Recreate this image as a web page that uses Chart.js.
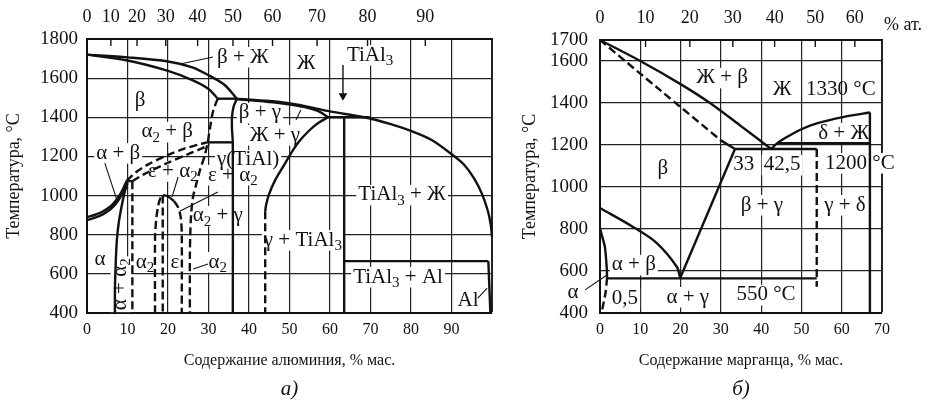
<!DOCTYPE html>
<html>
<head>
<meta charset="utf-8">
<script src="https://cdn.jsdelivr.net/npm/chart.js@4.4.1/dist/chart.umd.min.js"></script>
<style>
  html, body { margin: 0; padding: 0; background: #fff; overflow: hidden; }
  #wrap { position: relative; width: 928px; height: 404px; }
  canvas { position: absolute; top: 0; }
  #tial { left: 0; }
  #timn { left: 500px; }
</style>
</head>
<body>
<div id="wrap">
  <canvas id="tial" width="500" height="404"></canvas>
  <canvas id="timn" width="428" height="404"></canvas>
</div>
<script>
const FONT = "'Liberation Serif', 'Times New Roman', serif";
const INK = '#111';
const M_TI = 47.87, M_AL = 26.98, M_MN = 54.94;

// ---- Ti–Al: axes ----
const alAtTicks   = [0, 10, 20, 30, 40, 50, 60, 70, 80, 90];
const alWtTicks   = [0, 10, 20, 30, 40, 50, 60, 70, 80, 90, 100];
const alTempTicks = [400, 600, 800, 1000, 1200, 1400, 1600, 1800];

// ---- Ti–Al: phase boundaries, [wt.% Al, °C] ----
const alBetaLiquidus  = [[0,1720],[10,1706],[20,1685],[26,1655],[30,1615],[34,1565],[37,1495]];
const alBetaSolidus   = [[0,1720],[10,1690],[20,1637],[26,1590],[30,1545],[32.3,1495]];
const alPeritecticHi  = [[32.3,1495],[37,1495]];
const alLiquidus      = [[37,1495],[45,1483],[52,1465],[60,1430],[68.5,1400],[75,1365],[80,1330],[85,1285],[90,1212],[93,1160],[95.5,1090],[97.5,1010],[99,920],[99.7,850],[100,790]];
const alGammaSolidus  = [[37,1493],[46,1476],[51,1462],[54.5,1448],[57.5,1428],[59.5,1400]];
const alPeritectic3   = [[59.5,1400],[69.8,1400]];
const alGammaRight    = [[59.5,1400],[57,1370],[55,1335],[52.5,1280],[50.9,1233],[48.5,1150],[46.5,1080],[45,1010],[44.2,950],[44,920]];
const alGammaRightLow = [[44,920],[44,400]];
const alTiAl3         = [[63.5,1400],[63.5,400]];
const alEutectic      = [[63.5,665],[99.1,665]];
const alAlSolvus      = [[99.1,665],[99.6,400]];
const alGammaLeft     = [[37,1495],[36.2,1455],[35.8,1400],[35.8,1340],[36,1272],[36,400]];
const alEutectoid     = [[29.6,1272],[36,1272]];
const alA2BetaUpper   = [[9.8,1076],[12,1118],[15,1158],[19.7,1205],[24,1240],[27.5,1260],[29.6,1272]];
const alA2BetaLower   = [[11.2,1073],[14,1108],[19.7,1165],[25,1212],[28.5,1242],[30.2,1262]];
const alAlphaBeta     = [[32.3,1495],[31.6,1460],[31,1420],[30.5,1360],[30.1,1310],[29.8,1272],[29,1200],[27.9,1130],[27,1060],[26.2,995],[25.7,900],[25.5,800],[25.4,700],[25.4,400]];
const alTransusUpper  = [[0,890],[2,902],[4,920],[6,948],[7.5,985],[8.8,1030],[9.8,1076]];
const alTransusLower  = [[0,875],[2,887],[4,905],[6,933],[7.5,968],[8.8,1012],[10,1062]];
const alTransusTop    = [[9.8,1076],[11.2,1073]];
const alAlphaSolvus   = [[10,1068],[9.2,1010],[8.5,940],[7.9,870],[7.4,780],[7.1,660],[6.9,520],[6.9,400]];
const alAlpha2Left    = [[11.2,1073],[11.2,400]];
const alEpsLeft       = [[16.8,400],[16.8,780],[17.1,880],[17.6,950],[18.2,990],[18.8,1003]];
const alEpsTop        = [[18.8,1003],[20,995],[21.5,972]];
const alEpsRight      = [[21.5,972],[22.6,935],[23.2,880],[23.4,800],[23.4,400]];
const alEpsInner      = [[18.7,1000],[18.7,400]];
const alLeaders = [
  [[31.1,1708],[23,1672]],
  [[4.4,1166],[7.4,977]],
  [[22.5,1095],[21,993]],
  [[23,921],[32.3,1018]],
  [[26.2,625],[29.9,650]],
  [[51.6,1386],[52.8,1437]],
  [[96.5,476],[98.8,527]]
];
const alArrow    = [[63.2,1667],[63.2,1515]];
const alArrowTip = [[63.2,1510]];

const alLabels = [
  ['β + Ж', 38.5, 1708], ['Ж', 54.1, 1677], ['TiAl_3', 69.9, 1718],
  ['β', 13.1, 1488], ['α_2 + β', 19.8, 1325], ['α + β', 7.7, 1217],
  ['β + γ', 42.7, 1422], ['Ж + γ', 46.4, 1309], ['γ(TiAl)', 39.8, 1182],
  ['ε + α_2', 21.2, 1124], ['ε + α_2', 36, 1105], ['α_2 + γ', 32.3, 896],
  ['α', 3.2, 671], ['α_2', 14.3, 660], ['ε', 21.7, 660], ['α_2', 32.3, 660],
  ['γ + TiAl_3', 53.3, 773], ['TiAl_3 + Ж', 77.8, 1003],
  ['TiAl_3 + Al', 76.8, 584], ['Al', 94.1, 466]
];
const alRotLabels = [['α + α_2', 8.3, 547]];

// ---- Ti–Mn: axes ----
const mnAtTicks   = [0, 10, 20, 30, 40, 50, 60];
const mnWtTicks   = [0, 10, 20, 30, 40, 50, 60, 70];
const mnTempTicks = [400, 600, 800, 1000, 1200, 1400, 1600, 1700];

// ---- Ti–Mn: phase boundaries, [wt.% Mn, °C] ----
const mnLiquidus      = [[0,1700],[10,1600],[20,1490],[27.3,1400],[35,1290],[42.5,1181]];
const mnDeltaLiquidus = [[42.5,1181],[44,1209],[46.4,1238],[50,1275],[53.8,1303],[60.3,1333],[67,1355]];
const mnDeltaEdge     = [[67,1355],[67,400]];
const mnPeritectic    = [[44,1209],[67,1209]];
const mnEutectic      = [[33.5,1181],[53.8,1181]];
const mnSolidus       = [[0,1700],[15,1460],[30,1222]];
const mnSolidusEnd    = [[30,1222],[33.5,1181]];
const mnBetaGamma     = [[19.9,567],[33.5,1181]];
const mnBetaTransus   = [[0,900],[8.2,810],[14.1,733],[19.1,619],[19.9,567]];
const mnEutectoid     = [[1.7,565],[53.8,565]];
const mnGammaDelta    = [[53.8,1181],[53.8,525]];
const mnAlphaSolvus   = [[0,803],[0.6,760],[1.2,716],[1.5,660],[1.7,605],[1.75,568]];
const mnAlphaSolvusLo = [[1.75,568],[1.4,500],[0.8,440],[0.4,400]];
const mnLeaders = [[[-3.7,510],[1.7,581]]];

const mnLabels = [
  ['Ж + β', 30.3, 1520], ['Ж', 45.2, 1462], ['1330 °C', 59.8, 1462, true],
  ['δ + Ж', 60.5, 1257], ['1200 °C', 64.5, 1114], ['33', 35.7, 1105],
  ['42,5', 45.2, 1105], ['β', 15.6, 1090], ['β + γ', 40.2, 914],
  ['γ + δ', 60.8, 914], ['550 °C', 41.2, 486], ['α + γ', 21.8, 476],
  ['0,5', 6.2, 471], ['α + β', 8.4, 629], ['α', -6.7, 500]
];

function atToWt(at, m) {
  return 100 * at * m / (at * m + (100 - at) * M_TI);
}

function line(data, extra) {
  return Object.assign({
    data: data.map(([x, y]) => ({ x, y })),
    showLine: true, borderColor: INK, borderWidth: 2.4,
    pointRadius: 0, fill: false, tension: data.length > 2 ? 0.3 : 0, clip: false
  }, extra || {});
}
const solid  = d => line(d);
const dashed = d => line(d, { borderDash: [8, 4] });
const thin   = d => line(d, { borderWidth: 1.1 });

function richParts(text) {
  const parts = [];
  for (let i = 0; i < text.length; i++) {
    if (text[i] === '_') { parts.push({ s: text[i + 1], sub: true }); i++; continue; }
    const last = parts[parts.length - 1];
    if (last && !last.sub) last.s += text[i];
    else parts.push({ s: text[i], sub: false });
  }
  return parts;
}

function drawRich(ctx, text, x, y, size, mode) {
  const parts = richParts(text);
  const big = size + 'px ' + FONT;
  const small = Math.round(size * 0.7) + 'px ' + FONT;
  let w = 0;
  parts.forEach(p => { ctx.font = p.sub ? small : big; p.w = ctx.measureText(p.s).width; w += p.w; });
  if (mode === 'bg') {
    ctx.fillStyle = '#fff';
    ctx.fillRect(x - w / 2 - 2, y - size * 0.48, w + 4, size * 0.98);
    return;
  }
  ctx.fillStyle = INK;
  ctx.textBaseline = 'middle';
  ctx.textAlign = 'left';
  let cx = x - w / 2;
  parts.forEach(p => {
    ctx.font = p.sub ? small : big;
    ctx.fillText(p.s, cx, p.sub ? y + size * 0.28 : y);
    cx += p.w;
  });
}

function textPlugin(labels, rotLabels, atTicks, mAdd, letter, extra) {
  function paint(chart, mode) {
    const { ctx, chartArea, scales } = chart;
    ctx.save();
    labels.forEach(([t, wx, ty, noBg]) => {
      if (mode === 'bg' && noBg) return;
      drawRich(ctx, t, scales.x.getPixelForValue(wx), scales.y.getPixelForValue(ty), 21, mode);
    });
    rotLabels.forEach(([t, wx, ty]) => {
      ctx.save();
      ctx.translate(scales.x.getPixelForValue(wx), scales.y.getPixelForValue(ty));
      ctx.rotate(-Math.PI / 2);
      drawRich(ctx, t, 0, 0, 21, mode);
      ctx.restore();
    });
    if (mode !== 'bg') {
      // inward marks of the at.% scale
      ctx.strokeStyle = INK;
      ctx.lineWidth = 1.4;
      atTicks.forEach(a => {
        if (a === 0) return;
        const px = scales.xTop.getPixelForValue(atToWt(a, mAdd));
        ctx.beginPath();
        ctx.moveTo(px, chartArea.top);
        ctx.lineTo(px, chartArea.top + 7);
        ctx.stroke();
      });
      ctx.fillStyle = INK;
      ctx.textAlign = 'center';
      ctx.textBaseline = 'middle';
      ctx.font = 'italic 21px ' + FONT;
      ctx.fillText(letter, (chartArea.left + chartArea.right) / 2, 389);
      if (extra) {
        ctx.font = '18px ' + FONT;
        ctx.fillText(extra, chartArea.right + 21, 25);
      }
    }
    ctx.restore();
  }
  return {
    id: 'phaseText',
    beforeDatasetsDraw(chart) { paint(chart, 'bg'); },
    afterDatasetsDraw(chart) { paint(chart, 'fg'); }
  };
}

function buildChart(id, p) {
  const gridWidth = (max) => (ctx) => (ctx.tick && ctx.tick.value === max ? 2 : 1.2);
  return new Chart(document.getElementById(id), {
    type: 'scatter',
    data: { datasets: p.datasets },
    options: {
      responsive: false,
      animation: false,
      events: [],
      layout: { padding: { left: 0, top: 0, right: p.padRight, bottom: 0 } },
      plugins: { legend: { display: false }, tooltip: { enabled: false } },
      scales: {
        x: {
          type: 'linear', position: 'bottom', min: 0, max: p.xMax,
          afterBuildTicks: s => { s.ticks = p.wtTicks.map(v => ({ value: v })); },
          ticks: {
            autoSkip: false, maxRotation: 0, padding: 7, color: INK,
            font: { family: FONT, size: 16 },
            callback: v => (p.hideLast && v === p.xMax ? '' : String(v))
          },
          grid: { color: '#222', lineWidth: gridWidth(p.xMax), drawTicks: false },
          border: { color: INK, width: 2 },
          title: {
            display: true, text: p.xTitle, color: INK,
            font: { family: FONT, size: 16 }, padding: { top: 0, bottom: 34 }
          },
          afterFit: s => { s.height = 91; s.paddingLeft = 0; s.paddingRight = 0; }
        },
        xTop: {
          type: 'linear', position: 'top', min: 0, max: p.xMax,
          afterBuildTicks: s => { s.ticks = p.atTicks.map(a => ({ value: atToWt(a, p.mAdd) })); },
          ticks: {
            autoSkip: false, maxRotation: 0, padding: 3, color: INK,
            font: { family: FONT, size: 18 },
            callback: (v, i) => String(p.atTicks[i])
          },
          grid: { display: false },
          border: { color: INK, width: 2 },
          afterFit: s => { s.height = p.top; s.paddingLeft = 0; s.paddingRight = 0; }
        },
        y: {
          type: 'linear', position: 'left', min: 400, max: p.yMax,
          afterBuildTicks: s => { s.ticks = p.tempTicks.map(v => ({ value: v })); },
          ticks: {
            autoSkip: false, padding: p.yPad, color: INK,
            font: { family: FONT, size: 19 },
            callback: v => String(v)
          },
          grid: { color: '#222', lineWidth: gridWidth(p.yMax), drawTicks: false },
          border: { color: INK, width: 2 },
          title: {
            display: true, text: 'Температура, °C', color: INK,
            font: { family: FONT, size: 18 }, padding: { top: p.yTitlePad, bottom: 0 }
          },
          afterFit: s => { s.width = p.left; s.paddingTop = 0; s.paddingBottom = 0; }
        }
      }
    },
    plugins: [textPlugin(p.labels, p.rotLabels, p.atTicks, p.mAdd, p.letter, p.extra)]
  });
}

buildChart('tial', {
  xMax: 100, yMax: 1800, left: 87, top: 39, padRight: 8, yPad: 9, yTitlePad: 3,
  wtTicks: alWtTicks, atTicks: alAtTicks, tempTicks: alTempTicks, mAdd: M_AL, hideLast: true,
  xTitle: 'Содержание алюминия, % мас.', letter: 'а)',
  labels: alLabels, rotLabels: alRotLabels,
  datasets: [
    solid(alBetaLiquidus), solid(alBetaSolidus), solid(alPeritecticHi), solid(alLiquidus),
    solid(alGammaSolidus), solid(alPeritectic3), solid(alGammaRight), dashed(alGammaRightLow),
    solid(alTiAl3), solid(alEutectic), solid(alAlSolvus), solid(alGammaLeft), solid(alEutectoid),
    dashed(alA2BetaUpper), dashed(alA2BetaLower), dashed(alAlphaBeta),
    solid(alTransusUpper), solid(alTransusLower), solid(alTransusTop), solid(alAlphaSolvus),
    dashed(alAlpha2Left), dashed(alEpsLeft), solid(alEpsTop), dashed(alEpsRight), dashed(alEpsInner),
    ...alLeaders.map(thin),
    line(alArrow, { borderWidth: 1.4 }),
    {
      data: alArrowTip.map(([x, y]) => ({ x, y })), pointStyle: 'triangle', rotation: 180,
      pointRadius: 5, pointBackgroundColor: INK, pointBorderColor: INK, borderWidth: 0, clip: false
    }
  ]
});

buildChart('timn', {
  xMax: 70, yMax: 1700, left: 100, top: 40, padRight: 46, yPad: 12, yTitlePad: 19,
  wtTicks: mnWtTicks, atTicks: mnAtTicks, tempTicks: mnTempTicks, mAdd: M_MN, hideLast: false,
  xTitle: 'Содержание марганца, % мас.', letter: 'б)', extra: '% ат.',
  labels: mnLabels, rotLabels: [],
  datasets: [
    solid(mnLiquidus), solid(mnDeltaLiquidus), solid(mnDeltaEdge), solid(mnPeritectic),
    solid(mnEutectic), dashed(mnSolidus), solid(mnSolidusEnd), solid(mnBetaGamma),
    solid(mnBetaTransus), solid(mnEutectoid), dashed(mnGammaDelta),
    solid(mnAlphaSolvus), dashed(mnAlphaSolvusLo),
    ...mnLeaders.map(thin)
  ]
});
</script>
</body>
</html>
